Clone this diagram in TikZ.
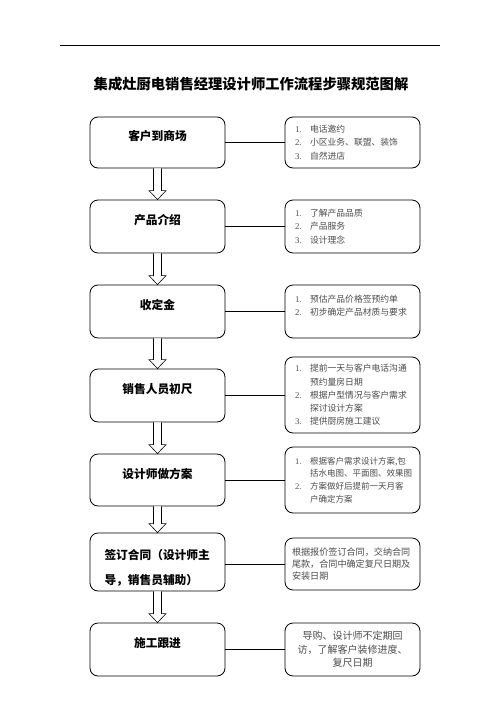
\documentclass[tikz,border=0pt]{standalone}
\usepackage{fontspec}
\setmainfont{Liberation Serif}
\newfontfamily\cjk{Noto Sans CJK SC}
\usetikzlibrary{positioning,calc}

\tikzset{
  stage/.style={draw, line width=0.8pt, rounded corners=8pt,
    minimum width=135pt, inner sep=0pt,
    font=\cjk\bfseries\fontsize{11.7}{14}\selectfont,
    text height=10pt, text depth=14pt},
  note/.style={draw, line width=0.8pt, rounded corners=8pt,
    minimum width=135pt, inner sep=0pt, text width=115pt, align=left,
    text=black!70, font=\cjk\fontsize{8.8}{13.3}\selectfont},
  link/.style={line width=0.6pt},
}
\newcommand{\stepnum}[2]{\makebox[15pt][l]{\rmfamily #1}#2}
\newcommand{\stepcont}[1]{\hspace*{15pt}#1}
\newcommand{\hollowarrow}[2]{%
  \draw[line width=0.6pt, fill=white] ($(#1.south)+(-4,0)$)
    -- ($(#2.north)+(-4,-9)$) -- ($(#2.north)+(-8.5,-9)$) -- (#2.north)
    -- ($(#2.north)+(8.5,-9)$) -- ($(#2.north)+(4,-9)$)
    -- ($(#1.south)+(4,0)$);}

\begin{document}
\begin{tikzpicture}[x=1pt,y=-1pt]
  \fill[color=white] (0,0) rectangle (496,702);
  \useasboundingbox (0,0) rectangle (496,702);
  \draw[line width=0.8pt] (60,45) -- (440,45);
  \node (title) at (251,84)
    {\cjk\bfseries\fontsize{14.3}{16}\selectfont 集成灶厨电销售经理设计师工作流程步骤规范图解};

  % steps on the left
  \node[stage, minimum height=51pt] (l1) at (157.5,142.5) {客户到商场};
  \node[stage, minimum height=53pt] (l2) at (157.5,226.5) {产品介绍};
  \node[stage, minimum height=53pt] (l3) at (157.5,311.5) {收定金};
  \node[stage, minimum height=53pt] (l4) at (157.5,395.5) {销售人员初尺};
  \node[stage, minimum height=52pt] (l5) at (157.5,480) {设计师做方案};
  \node[stage, minimum height=58pt, text height={}, text depth={}] (l6) at (157.5,562)
    {\parbox{106pt}{\baselineskip=25pt\vspace*{11pt}签订合同（设计师主\\导，销售员辅助）}};
  \node[stage, minimum height=53pt] (l7) at (157.5,649.5) {施工跟进};

  % notes on the right
  \node[note, minimum height=51pt] (r1) at (352.5,142.5)
    {\stepnum{1.}{电话邀约}\\
     \stepnum{2.}{小区业务、联盟、装饰}\\
     \stepnum{3.}{自然进店}};
  \node[note, minimum height=53pt] (r2) at (352.5,226.5)
    {\stepnum{1.}{了解产品品质}\\
     \stepnum{2.}{产品服务}\\
     \stepnum{3.}{设计理念}};
  \node[note, minimum height=53pt, font=\cjk\fontsize{8.8}{12.5}\selectfont] (r3) at (352.5,311.5)
    {\stepnum{1.}{预估产品价格签预约单}\\
     \stepnum{2.}{初步确定产品材质与要求}\\
     \mbox{}};
  \node[note, minimum height=76pt] (r4) at (352.5,395)
    {\stepnum{1.}{提前一天与客户电话沟通}\\
     \stepcont{预约量房日期}\\
     \stepnum{2.}{根据户型情况与客户需求}\\
     \stepcont{探讨设计方案}\\
     \stepnum{3.}{提供厨房施工建议}};
  \node[note, minimum height=66pt, font=\cjk\fontsize{8.5}{12.7}\selectfont] (r5) at (352.5,480)
    {\stepnum{1.}{根据客户需求设计方案,包}\\
     \stepcont{括水电图、平面图、效果图}\\
     \stepnum{2.}{方案做好后提前一天月客}\\
     \stepcont{户确定方案}};
  \node[note, minimum height=52pt, text width=121pt,
    font=\cjk\fontsize{9.1}{12.3}\selectfont] (r6) at (352.5,564)
    {根据报价签订合同，交纳合同\\
     尾款，合同中确定复尺日期及\\
     安装日期};
  \node[note, minimum height=53pt, text width=121pt, align=center,
    font=\cjk\fontsize{10}{13.5}\selectfont] (r7) at (352.5,649.5)
    {导购、设计师不定期回\\
     访，了解客户装修进度、\\
     复尺日期};

  % links and arrows
  \foreach \n in {1,...,7}
    \draw[link] (r\n.west -| l\n.east) -- (r\n.west);
  \foreach \a/\b in {l1/l2,l2/l3,l3/l4,l4/l5,l5/l6,l6/l7}
    \hollowarrow{\a}{\b};
\end{tikzpicture}
\end{document}
